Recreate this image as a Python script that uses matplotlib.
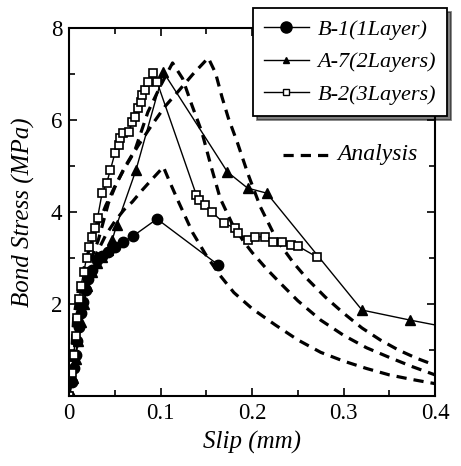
import matplotlib
matplotlib.use("Agg")
import matplotlib.pyplot as plt

# measured series: slip (mm) and bond stress (MPa)
b1_slip = [0, 0.003, 0.005, 0.007, 0.009, 0.011, 0.013, 0.015, 0.018, 0.021,
           0.025, 0.030, 0.036, 0.043, 0.050, 0.059, 0.070, 0.096, 0.163]
b1_stress = [0, 0.3, 0.6, 0.9, 1.2, 1.5, 1.8, 2.05, 2.3, 2.55,
             2.75, 2.95, 3.05, 3.13, 3.24, 3.35, 3.48, 3.85, 2.85]

a7_slip = [0, 0.004, 0.007, 0.010, 0.013, 0.016, 0.020, 0.025, 0.030, 0.036,
           0.043, 0.047, 0.052, 0.073, 0.103, 0.173, 0.195, 0.216, 0.320, 0.373, 0.43]
a7_stress = [0, 0.4, 0.8, 1.2, 1.6, 2.0, 2.4, 2.7, 2.9, 3.02,
             3.17, 3.39, 3.72, 4.91, 7.04, 4.87, 4.52, 4.41, 1.87, 1.65, 1.43]

b2_slip = [0, 0.003, 0.005, 0.007, 0.009, 0.011, 0.013, 0.016, 0.019, 0.022,
           0.025, 0.028, 0.031, 0.036, 0.041, 0.045, 0.050, 0.054, 0.056, 0.059,
           0.065, 0.069, 0.072, 0.075, 0.078, 0.080, 0.083, 0.086, 0.092, 0.096,
           0.139, 0.142, 0.149, 0.156, 0.169, 0.181, 0.185, 0.195, 0.203, 0.214,
           0.223, 0.233, 0.242, 0.250, 0.271]
b2_stress = [0, 0.5, 0.9, 1.3, 1.7, 2.1, 2.4, 2.7, 3.0, 3.25,
             3.45, 3.65, 3.87, 4.41, 4.63, 4.91, 5.28, 5.46, 5.6, 5.72,
             5.74, 5.96, 6.07, 6.26, 6.4, 6.54, 6.65, 6.83, 7.02, 6.83,
             4.37, 4.26, 4.15, 4.0, 3.76, 3.65, 3.54, 3.39, 3.46, 3.46,
             3.35, 3.35, 3.28, 3.26, 3.02]

# analysis curves
an1_slip = [0, 0.005, 0.01, 0.02, 0.03, 0.04, 0.05, 0.06, 0.069, 0.08, 0.09, 0.103,
            0.11, 0.12, 0.135, 0.15, 0.165, 0.18, 0.2, 0.225, 0.25, 0.275, 0.3,
            0.325, 0.35, 0.375, 0.4]
an1_stress = [0, 1.4, 1.9, 2.6, 3.1, 3.5, 3.8, 4.05, 4.22, 4.48, 4.7, 4.98,
              4.65, 4.2, 3.55, 3.05, 2.62, 2.25, 1.9, 1.55, 1.22, 0.95, 0.76,
              0.6, 0.46, 0.36, 0.27]

an2_slip = [0, 0.005, 0.01, 0.02, 0.032, 0.043, 0.05, 0.06, 0.072, 0.086, 0.1, 0.113,
            0.124, 0.134, 0.145, 0.155, 0.165, 0.178, 0.19, 0.2, 0.215, 0.23, 0.25,
            0.275, 0.3, 0.325, 0.35, 0.375, 0.4]
an2_stress = [0, 1.5, 2.1, 2.75, 3.4, 4.2, 4.54, 4.95, 5.35, 6.17, 6.75, 7.24,
              6.9, 6.33, 5.74, 5.0, 4.3, 3.75, 3.38, 3.12, 2.78, 2.47, 2.07,
              1.65, 1.32, 1.05, 0.84, 0.64, 0.46]

an3_slip = [0, 0.005, 0.01, 0.02, 0.03, 0.04, 0.05, 0.06, 0.075, 0.09, 0.105, 0.12,
            0.135, 0.152, 0.16, 0.167, 0.174, 0.184, 0.195, 0.209, 0.227, 0.245,
            0.26, 0.28, 0.3, 0.32, 0.34, 0.36, 0.38, 0.4]
an3_stress = [0, 1.7, 2.3, 3.07, 3.65, 4.14, 4.56, 4.93, 5.43, 5.88, 6.3, 6.64,
              6.99, 7.35, 7.02, 6.5, 6.04, 5.5, 4.85, 4.11, 3.39, 2.9,
              2.55, 2.15, 1.8, 1.48, 1.22, 1.0, 0.82, 0.67]

plt.rcParams['font.family'] = 'Liberation Serif'

fig = plt.figure(figsize=(4.61, 4.66), dpi=100)
ax = fig.add_axes([0.150, 0.150, 0.794, 0.790])

dash = dict(color='black', lw=2.3, linestyle=(0, (3.2, 2.2)), dash_capstyle='butt')
for xs, ys in [(an1_slip, an1_stress), (an2_slip, an2_stress), (an3_slip, an3_stress)]:
    ax.plot(xs, ys, **dash)

ax.plot(b1_slip, b1_stress, '-o', color='black', lw=1, ms=7.5, mfc='black')
ax.plot(a7_slip, a7_stress, '-^', color='black', lw=1, ms=7.5, mfc='black')
ax.plot(b2_slip, b2_stress, '-s', color='black', lw=1, ms=5.5, mfc='white', mew=1.2)

ax.set_xlim(0, 0.4)
ax.set_ylim(0, 8)
ax.set_xticks([0, 0.1, 0.2, 0.3, 0.4])
ax.set_xticklabels(['0', '0.1', '0.2', '0.3', '0.4'])
ax.set_yticks([2, 4, 6, 8])
ax.set_xticks([0.05, 0.15, 0.25, 0.35], minor=True)
ax.set_yticks([1, 3, 5, 7], minor=True)
ax.tick_params(which='both', direction='in', top=True, right=True, labelsize=16.5, width=1.2)
ax.tick_params(which='major', length=6, pad=5)
ax.tick_params(which='minor', length=4)
for s in ax.spines.values():
    s.set_linewidth(1.5)

ax.set_xlabel('Slip (mm)', fontsize=18, style='italic', labelpad=5)
ax.set_ylabel('Bond Stress (MPa)', fontsize=18, style='italic', labelpad=11)

# analysis key
ax.plot([0.234, 0.289], [5.24, 5.24], clip_on=False, **dash)
ax.text(0.293, 5.24, 'Analysis', fontsize=17, style='italic', va='center', ha='left')

# small-marker handles for the legend
h1, = ax.plot([], [], '-o', color='black', lw=1, ms=8)
h2, = ax.plot([], [], '-^', color='black', lw=1, ms=4.5)
h3, = ax.plot([], [], '-s', color='black', lw=1, ms=4.5, mfc='white')
leg = fig.legend([h1, h2, h3], ['B-1(1Layer)', 'A-7(2Layers)', 'B-2(3Layers)'],
                 loc='upper right', bbox_to_anchor=(0.970, 0.983),
                 bbox_transform=fig.transFigure, fancybox=False,
                 shadow={'color': 'black', 'ox': 3, 'oy': -3},
                 framealpha=1, edgecolor='black', handlelength=2.0,
                 handletextpad=0.4, labelspacing=0.55, borderpad=0.5,
                 borderaxespad=0, prop={'size': 16, 'style': 'italic'})
leg.get_frame().set_linewidth(1.3)

fig.savefig('out.png', dpi=100)
